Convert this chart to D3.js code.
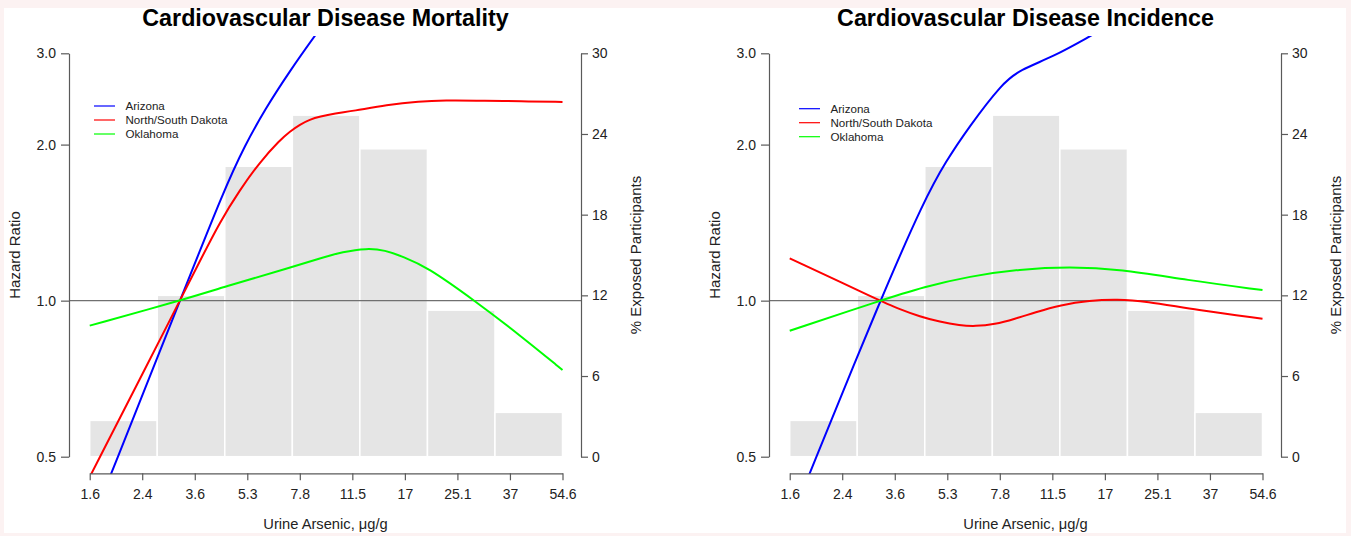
<!DOCTYPE html>
<html>
<head>
<meta charset="utf-8">
<script src="https://cdn.jsdelivr.net/npm/d3@7"></script>
<style>
  body { margin: 0; background: #fff; }
  text { font-family: "Liberation Sans", Arial, Helvetica, sans-serif; }
</style>
</head>
<body>
<div id="chart"></div>
<script>
// --- Axis ticks ---
const xTickValues = [1.649, 2.432, 3.589, 5.294, 7.810, 11.52, 17.00, 25.08, 37.00, 54.60];
const xTickLabels = ["1.6", "2.4", "3.6", "5.3", "7.8", "11.5", "17", "25.1", "37", "54.6"];
const hrTicks = [0.5, 1.0, 2.0, 3.0];
const hrTickLabels = ["0.5", "1.0", "2.0", "3.0"];
const pctTicks = [0, 6, 12, 18, 24, 30];

// --- Histogram of exposure (same in both panels) ---
const binEdges = [1.649, 2.718, 4.482, 7.389, 12.18, 20.09, 33.12, 54.60];
const binPct = [2.7, 12.0, 21.6, 25.4, 22.9, 10.9, 3.3];

// --- Regions ---
const regions = ["Arizona", "North/South Dakota", "Oklahoma"];

// --- Cardiovascular disease mortality ---
const mortArizonaX  = [1.649, 1.935, 3.216, 4.49, 5.20, 6.03, 7.26, 8.67, 10.59];
const mortArizonaHR = [0.366, 0.464, 1.0, 1.653, 1.992, 2.338, 2.776, 3.226, 3.80];
const mortDakotaX   = [1.649, 3.216, 3.73, 4.32, 5.01, 5.81, 6.74, 7.26, 7.82, 8.41, 9.06, 10.13, 11.6, 14.85, 19.0, 22.5, 31.1, 39.7, 54.6];
const mortDakotaHR  = [0.457, 1.0, 1.193, 1.418, 1.635, 1.851, 2.041, 2.120, 2.187, 2.236, 2.266, 2.297, 2.322, 2.385, 2.424, 2.435, 2.431, 2.424, 2.417];
const mortOklaX     = [1.649, 3.216, 4.48, 7.35, 9.06, 10.74, 12.8, 14.66, 16.8, 19.96, 28.5, 39.8, 54.6];
const mortOklaHR    = [0.895, 1.0, 1.064, 1.160, 1.207, 1.242, 1.262, 1.252, 1.215, 1.163, 1.0, 0.858, 0.735];

// --- Cardiovascular disease incidence ---
const incArizonaX  = [1.649, 1.91, 3.216, 4.48, 5.23, 6.22, 7.95, 9.06, 11.6, 15.0, 17.6];
const incArizonaHR = [0.373, 0.464, 1.0, 1.571, 1.854, 2.165, 2.626, 2.786, 2.956, 3.22, 3.40];
const incDakotaX   = [1.649, 3.216, 3.73, 4.32, 5.01, 5.81, 6.49, 7.53, 8.73, 10.13, 12.24, 15.2, 18.65, 22.8, 33.7, 54.6];
const incDakotaHR  = [1.207, 1.0, 0.962, 0.932, 0.910, 0.896, 0.892, 0.900, 0.922, 0.949, 0.981, 1.001, 1.006, 0.998, 0.959, 0.923];
const incOklaX     = [1.649, 3.216, 4.48, 6.22, 9.06, 13.1, 19.0, 31.1, 54.6];
const incOklaHR    = [0.875, 1.0, 1.064, 1.114, 1.150, 1.163, 1.150, 1.096, 1.048];

const colors = ["#0000ff", "#ff0000", "#00ff00"];

const W = 1351, H = 536;
const svg = d3.select("#chart").append("svg")
    .attr("width", W)
    .attr("height", H);

// faint frame round the figure
svg.append("rect").attr("width", W).attr("height", H).attr("fill", "#fcf2f2");
svg.append("rect").attr("x", 4).attr("y", 8).attr("width", W - 9).attr("height", H - 11).attr("fill", "#fff");

const zip = (xs, ys) => xs.map((x, i) => ({ x: x, hr: ys[i] }));

function drawPanel(off, id, title, series, legendY) {
    const x = d3.scaleLog().domain([1.6487, 54.598]).range([89.7 + off, 562.5 + off]);
    const y = d3.scaleLog().domain([0.5, 3.0]).range([456.7, 53.3]);
    const yPct = d3.scaleLinear().domain([0, 30]).range([456.7, 53.3]);
    const left = 69 + off, right = 581 + off;

    const g = svg.append("g");

    // clip to the plot region
    g.append("clipPath").attr("id", "clip" + id)
        .append("rect")
        .attr("x", left).attr("y", 36)
        .attr("width", right - left).attr("height", 438);

    // histogram of exposure
    g.append("g").selectAll("rect")
        .data(binPct)
        .enter().append("rect")
        .attr("x", (d, i) => x(binEdges[i]))
        .attr("width", (d, i) => x(binEdges[i + 1]) - x(binEdges[i]))
        .attr("y", d => yPct(d))
        .attr("height", d => yPct(0) - yPct(d))
        .attr("fill", "#e5e5e5")
        .attr("stroke", "#fff")
        .attr("stroke-width", 1.5);

    // reference line at HR = 1
    g.append("line")
        .attr("x1", left).attr("x2", right)
        .attr("y1", y(1)).attr("y2", y(1))
        .attr("stroke", "#707070")
        .attr("stroke-width", 1.3);

    // smoothed spline curves
    const line = d3.line()
        .x(d => x(d.x))
        .y(d => y(d.hr))
        .curve(d3.curveBasis);

    const curves = g.append("g").attr("clip-path", `url(#clip${id})`);
    series.forEach((s, i) => {
        curves.append("path")
            .attr("d", line(s))
            .attr("fill", "none")
            .attr("stroke", colors[i])
            .attr("stroke-width", 2);
    });

    // axes
    const styleAxis = sel => {
        sel.select(".domain").attr("stroke", "#5a5a5a").attr("stroke-width", 1.2);
        sel.selectAll(".tick line").attr("stroke", "#5a5a5a").attr("stroke-width", 1.2);
        sel.selectAll(".tick text").attr("fill", "#222").style("font-size", "14px")
            .style("font-family", '"Liberation Sans", Arial, sans-serif');
    };

    g.append("g")
        .attr("transform", "translate(0,473.3)")
        .call(d3.axisBottom(x).tickValues(xTickValues).tickSize(7).tickSizeOuter(0).tickPadding(8.5)
            .tickFormat((d, i) => xTickLabels[i]))
        .call(styleAxis);

    g.append("g")
        .attr("transform", `translate(${left},0)`)
        .call(d3.axisLeft(y).tickValues(hrTicks).tickSize(8).tickSizeOuter(0).tickPadding(5)
            .tickFormat((d, i) => hrTickLabels[i]))
        .call(styleAxis);

    g.append("g")
        .attr("transform", `translate(${right},0)`)
        .call(d3.axisRight(yPct).tickValues(pctTicks).tickSize(7).tickSizeOuter(0).tickPadding(4)
            .tickFormat(d3.format("d")))
        .call(styleAxis);

    // titles and axis labels
    g.append("text")
        .attr("x", 325.5 + off).attr("y", 26)
        .attr("text-anchor", "middle")
        .style("font-size", "23.3px")
        .style("font-weight", "bold")
        .attr("fill", "#000")
        .text(title);

    g.append("text")
        .attr("x", 325.5 + off).attr("y", 529)
        .attr("text-anchor", "middle")
        .style("font-size", "14.7px")
        .attr("fill", "#222")
        .text("Urine Arsenic, \u03bcg/g");

    g.append("text")
        .attr("transform", `translate(${19.5 + off},255) rotate(-90)`)
        .attr("text-anchor", "middle")
        .style("font-size", "15px")
        .attr("fill", "#222")
        .text("Hazard Ratio");

    g.append("text")
        .attr("transform", `translate(${640.5 + off},255) rotate(-90)`)
        .attr("text-anchor", "middle")
        .style("font-size", "15px")
        .attr("fill", "#222")
        .text("% Exposed Participants");

    // legend
    const lx = (off === 0 ? 94 : 799);
    const legend = g.append("g");
    regions.forEach((r, i) => {
        const ly = legendY + i * 14;
        legend.append("line")
            .attr("x1", lx).attr("x2", lx + 21)
            .attr("y1", ly).attr("y2", ly)
            .attr("stroke", colors[i])
            .attr("stroke-width", 1.2);
        legend.append("text")
            .attr("x", lx + 31.5).attr("y", ly)
            .attr("dy", "0.36em")
            .style("font-size", "11.6px")
            .attr("fill", "#222")
            .text(r);
    });
}

drawPanel(0, "m", "Cardiovascular Disease Mortality",
    [zip(mortArizonaX, mortArizonaHR), zip(mortDakotaX, mortDakotaHR), zip(mortOklaX, mortOklaHR)], 106);
drawPanel(700, "i", "Cardiovascular Disease Incidence",
    [zip(incArizonaX, incArizonaHR), zip(incDakotaX, incDakotaHR), zip(incOklaX, incOklaHR)], 108.7);
</script>
</body>
</html>
